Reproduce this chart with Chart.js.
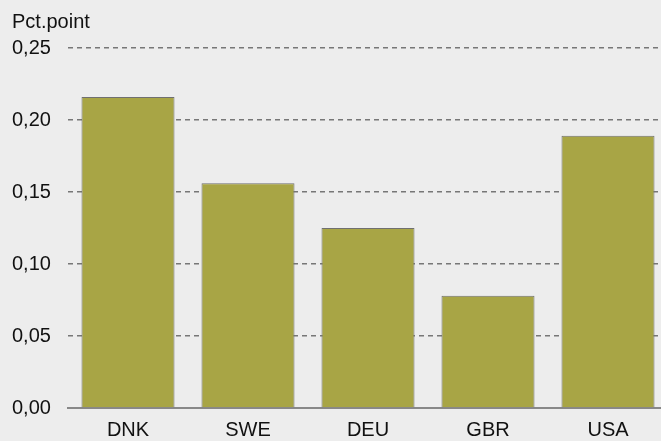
<!DOCTYPE html>
<html>
<head>
<meta charset="utf-8">
<script src="https://cdn.jsdelivr.net/npm/chart.js@4"></script>
<style>
    html, body { margin: 0; padding: 0; background: #ededed; overflow: hidden; }
    #wrap { width: 661px; height: 441px; overflow: hidden; }
</style>
</head>
<body>
<div id="wrap"><canvas id="barChart" width="670" height="441"></canvas></div>
<script>
const countries = ['DNK', 'SWE', 'DEU', 'GBR', 'USA'];
const pctPoints = [0.216, 0.156, 0.125, 0.078, 0.189];
const yTicks = [0, 0.05, 0.10, 0.15, 0.20, 0.25];

const fontFamily = 'Arial, "Liberation Sans", sans-serif';

const bgPlugin = {
    id: 'bg',
    beforeDraw(chart) {
        const ctx = chart.ctx;
        ctx.save();
        ctx.fillStyle = '#ededed';
        ctx.fillRect(0, 0, chart.width, chart.height);
        ctx.restore();
    }
};

const ctx = document.getElementById('barChart').getContext('2d');
new Chart(ctx, {
    type: 'bar',
    data: {
        labels: countries,
        datasets: [{
            data: pctPoints,
            backgroundColor: '#a8a545',
            borderColor: '#707070',
            borderWidth: 1,
            barPercentage: 0.775,
            categoryPercentage: 1
        }]
    },
    options: {
        responsive: false,
        animation: false,
        devicePixelRatio: 1,
        layout: { padding: { left: 12, right: 2, top: 0, bottom: 0 } },
        plugins: {
            legend: { display: false },
            tooltip: { enabled: false },
            title: {
                display: true,
                text: 'Pct.point',
                align: 'start',
                color: '#111111',
                font: { family: fontFamily, size: 20, weight: 'normal' },
                padding: { top: 10, bottom: 14 }
            }
        },
        scales: {
            x: {
                afterFit(scale) { scale.height = 33; },
                grid: { display: false },
                border: { display: true, color: '#888888', width: 2 },
                ticks: {
                    color: '#111111',
                    padding: 2,
                    font: { family: fontFamily, size: 20 }
                }
            },
            y: {
                min: 0,
                max: 0.25,
                afterFit(scale) { scale.width = 56; },
                afterBuildTicks(scale) { scale.ticks = yTicks.map(v => ({ value: v })); },
                grid: {
                    color: '#777777',
                    lineWidth: 1.5,
                    drawTicks: false
                },
                border: { display: false, dash: [5, 4] },
                ticks: {
                    color: '#111111',
                    crossAlign: 'far',
                    font: { family: fontFamily, size: 20 },
                    callback: v => v.toFixed(2).replace('.', ',')
                }
            }
        }
    },
    plugins: [bgPlugin]
});
</script>
</body>
</html>
